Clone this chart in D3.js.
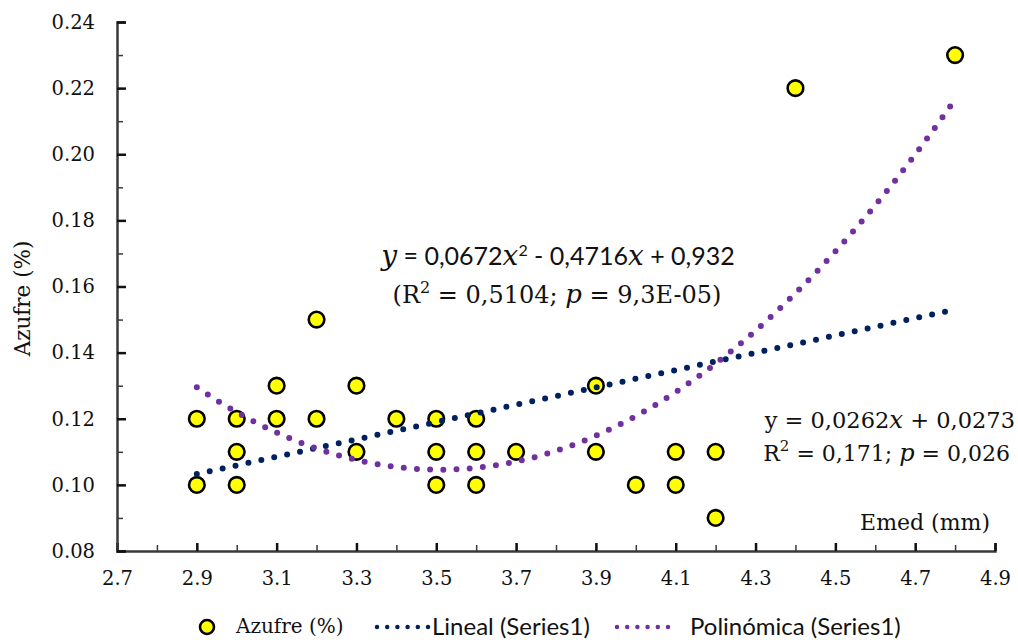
<!DOCTYPE html>
<html>
<head>
<meta charset="utf-8">
<script src="https://cdn.jsdelivr.net/npm/d3@7"></script>
<style>
  html, body { margin: 0; padding: 0; background: #fff; }
  svg { display: block; }
  .serif { font-family: "DejaVu Serif", "Liberation Serif", serif; }
  .sans { font-family: Lato, "Open Sans", sans-serif; }
</style>
</head>
<body>
<script>
// Emed (mm) vs. sulfur content, with linear and quadratic trend lines
const emed   = [2.9, 2.9, 3.0, 3.0, 3.0, 3.1, 3.1, 3.2, 3.2, 3.3, 3.3, 3.4, 3.5, 3.5,
                3.5, 3.6, 3.6, 3.6, 3.7, 3.9, 3.9, 4.0, 4.1, 4.1, 4.2, 4.2, 4.4, 4.8];
const azufre = [0.12, 0.10, 0.12, 0.11, 0.10, 0.13, 0.12, 0.15, 0.12, 0.13, 0.11, 0.12, 0.12, 0.11,
                0.10, 0.12, 0.11, 0.10, 0.11, 0.13, 0.11, 0.10, 0.11, 0.10, 0.11, 0.09, 0.22, 0.23];

// Trend line coefficients (constant, x, x^2)
const linCoef  = [0.0273, 0.0262];
const polyCoef = [0.932, -0.4716, 0.0672];

const xTicks = [2.7, 2.9, 3.1, 3.3, 3.5, 3.7, 3.9, 4.1, 4.3, 4.5, 4.7, 4.9];
const yTicks = [0.08, 0.10, 0.12, 0.14, 0.16, 0.18, 0.20, 0.22, 0.24];
const legendLabels = ["Azufre (%)", "Lineal (Series1)", "Polinómica (Series1)"];

const W = 1018, H = 640;
const margin = { left: 117, right: 23, top: 22, bottom: 89 };

const svg = d3.select("body").append("svg").attr("width", W).attr("height", H);

const x = d3.scaleLinear().domain([2.7, 4.9]).range([margin.left, W - margin.right]);
const y = d3.scaleLinear().domain([0.08, 0.24]).range([H - margin.bottom, margin.top]);

const axisColor = "#3a3a3a";

// Minor ticks (every 0.1 on x, every 0.01 on y), drawn inward
const xMinor = d3.range(0, 23).map(i => +(2.7 + i * 0.1).toFixed(2));
const yMinor = d3.range(0, 17).map(i => +(0.08 + i * 0.01).toFixed(3));

const xAxisMinor = d3.axisBottom(x).tickValues(xMinor).tickSize(-6).tickFormat("");
const yAxisMinor = d3.axisLeft(y).tickValues(yMinor).tickSize(-6).tickFormat("");

const gxm = svg.append("g").attr("transform", `translate(0,${y(0.08)})`).call(xAxisMinor);
const gym = svg.append("g").attr("transform", `translate(${x(2.7)},0)`).call(yAxisMinor);
[gxm, gym].forEach(g => {
  g.select(".domain").remove();
  g.selectAll(".tick line").attr("stroke", axisColor).attr("stroke-width", 1.5);
});

// Major ticks and labels
const xAxis = d3.axisBottom(x).tickValues(xTicks).tickSize(-8).tickPadding(22)
  .tickFormat(d3.format(".1f"));
const yAxis = d3.axisLeft(y).tickValues(yTicks).tickSize(-9).tickPadding(22)
  .tickFormat(d3.format(".2f"));

const gx = svg.append("g").attr("transform", `translate(0,${y(0.08)})`).call(xAxis);
const gy = svg.append("g").attr("transform", `translate(${x(2.7)},0)`).call(yAxis);

[gx, gy].forEach(g => {
  g.select(".domain").attr("stroke", axisColor).attr("stroke-width", 2.5);
  g.selectAll(".tick line").attr("stroke", "#111").attr("stroke-width", 2.5);
  g.selectAll(".tick text")
    .attr("class", "serif")
    .attr("font-size", 19.5)
    .attr("fill", "#111");
});
gx.selectAll(".tick text").attr("dy", "0.6em");

// Axis titles
svg.append("text")
  .attr("class", "serif")
  .attr("transform", `translate(30,${(y(0.08) + y(0.24)) / 2 + 12}) rotate(-90)`)
  .attr("text-anchor", "middle")
  .attr("font-size", 21.5)
  .attr("fill", "#111")
  .text("Azufre (%)");

svg.append("text")
  .attr("class", "serif")
  .attr("x", 990).attr("y", 530)
  .attr("text-anchor", "end")
  .attr("font-size", 22)
  .attr("fill", "#111")
  .text("Emed (mm)");

// Scatter markers
svg.append("g").selectAll("circle")
  .data(emed.map((e, i) => [e, azufre[i]]))
  .join("circle")
  .attr("cx", d => x(d[0]))
  .attr("cy", d => y(d[1]))
  .attr("r", 7.8)
  .attr("fill", "#ffff00")
  .attr("stroke", "#000")
  .attr("stroke-width", 2.6);

// Trend lines over the data range
const poly = (c, v) => c.reduce((s, k, i) => s + k * Math.pow(v, i), 0);
const [xMin, xMax] = d3.extent(emed);
const xs = d3.range(0, 201).map(i => xMin + (xMax - xMin) * i / 200);

const line = d3.line().x(d => x(d[0])).y(d => y(d[1]));

const trends = [
  { coef: linCoef,  color: "#002060" },
  { coef: polyCoef, color: "#7030a0" }
];

svg.append("g").selectAll("path")
  .data(trends)
  .join("path")
  .attr("d", t => line(xs.map(v => [v, poly(t.coef, v)])))
  .attr("fill", "none")
  .attr("stroke", t => t.color)
  .attr("stroke-width", 6)
  .attr("stroke-linecap", "round")
  .attr("stroke-dasharray", "0 13.2");

// Equation labels
const eq1 = svg.append("text").attr("x", 558).attr("y", 265)
  .attr("text-anchor", "middle").attr("font-size", 25).attr("fill", "#111").attr("class", "sans");
eq1.append("tspan").attr("class", "serif").attr("font-style", "italic").attr("font-size", 28).text("y");
eq1.append("tspan").text(" = 0,0672");
eq1.append("tspan").attr("class", "serif").attr("font-style", "italic").attr("font-size", 28).text("x");
eq1.append("tspan").attr("font-size", 16).attr("dy", -9).text("2");
eq1.append("tspan").attr("dy", 9).text(" - 0,4716");
eq1.append("tspan").attr("class", "serif").attr("font-style", "italic").attr("font-size", 28).text("x");
eq1.append("tspan").text(" + 0,932");

const eq2 = svg.append("text").attr("x", 557).attr("y", 303)
  .attr("text-anchor", "middle").attr("font-size", 24).attr("fill", "#111").attr("class", "serif");
eq2.append("tspan").text("(R");
eq2.append("tspan").attr("font-size", 16).attr("dy", -10).text("2");
eq2.append("tspan").attr("dy", 10).text(" = 0,5104;  ");
eq2.append("tspan").attr("font-style", "italic").attr("font-size", 26).text("p");
eq2.append("tspan").text(" = 9,3E-05)");

const eq3 = svg.append("text").attr("x", 1015).attr("y", 428)
  .attr("text-anchor", "end").attr("font-size", 22.5).attr("fill", "#111").attr("class", "serif");
eq3.append("tspan").text("y = 0,0262");
eq3.append("tspan").attr("font-style", "italic").attr("font-size", 24.5).text("x");
eq3.append("tspan").text(" + 0,0273");

const eq4 = svg.append("text").attr("x", 1010).attr("y", 461)
  .attr("text-anchor", "end").attr("font-size", 22).attr("fill", "#111").attr("class", "serif");
eq4.append("tspan").text("R");
eq4.append("tspan").attr("font-size", 15).attr("dy", -10).text("2");
eq4.append("tspan").attr("dy", 10).text(" = 0,171; ");
eq4.append("tspan").attr("font-style", "italic").attr("font-size", 24).text("p");
eq4.append("tspan").text(" = 0,026");

// Legend
const ly = 627;
const legend = svg.append("g");
legend.append("circle")
  .attr("cx", 207).attr("cy", ly).attr("r", 7)
  .attr("fill", "#ffff00").attr("stroke", "#000").attr("stroke-width", 2.6);
legend.append("text").attr("class", "serif")
  .attr("x", 236).attr("y", ly + 6).attr("font-size", 20).attr("fill", "#111")
  .text(legendLabels[0]);

legend.append("line")
  .attr("x1", 377).attr("x2", 428).attr("y1", ly).attr("y2", ly)
  .attr("stroke", "#002060").attr("stroke-width", 4.5)
  .attr("stroke-linecap", "round").attr("stroke-dasharray", "0 10.2");
legend.append("text").attr("class", "sans")
  .attr("x", 432).attr("y", ly + 8).attr("font-size", 24).attr("fill", "#111")
  .text(legendLabels[1]);

legend.append("line")
  .attr("x1", 617).attr("x2", 668).attr("y1", ly).attr("y2", ly)
  .attr("stroke", "#7030a0").attr("stroke-width", 4.5)
  .attr("stroke-linecap", "round").attr("stroke-dasharray", "0 10.2");
legend.append("text").attr("class", "sans")
  .attr("x", 690).attr("y", ly + 8).attr("font-size", 24).attr("fill", "#111")
  .text(legendLabels[2]);
</script>
</body>
</html>
